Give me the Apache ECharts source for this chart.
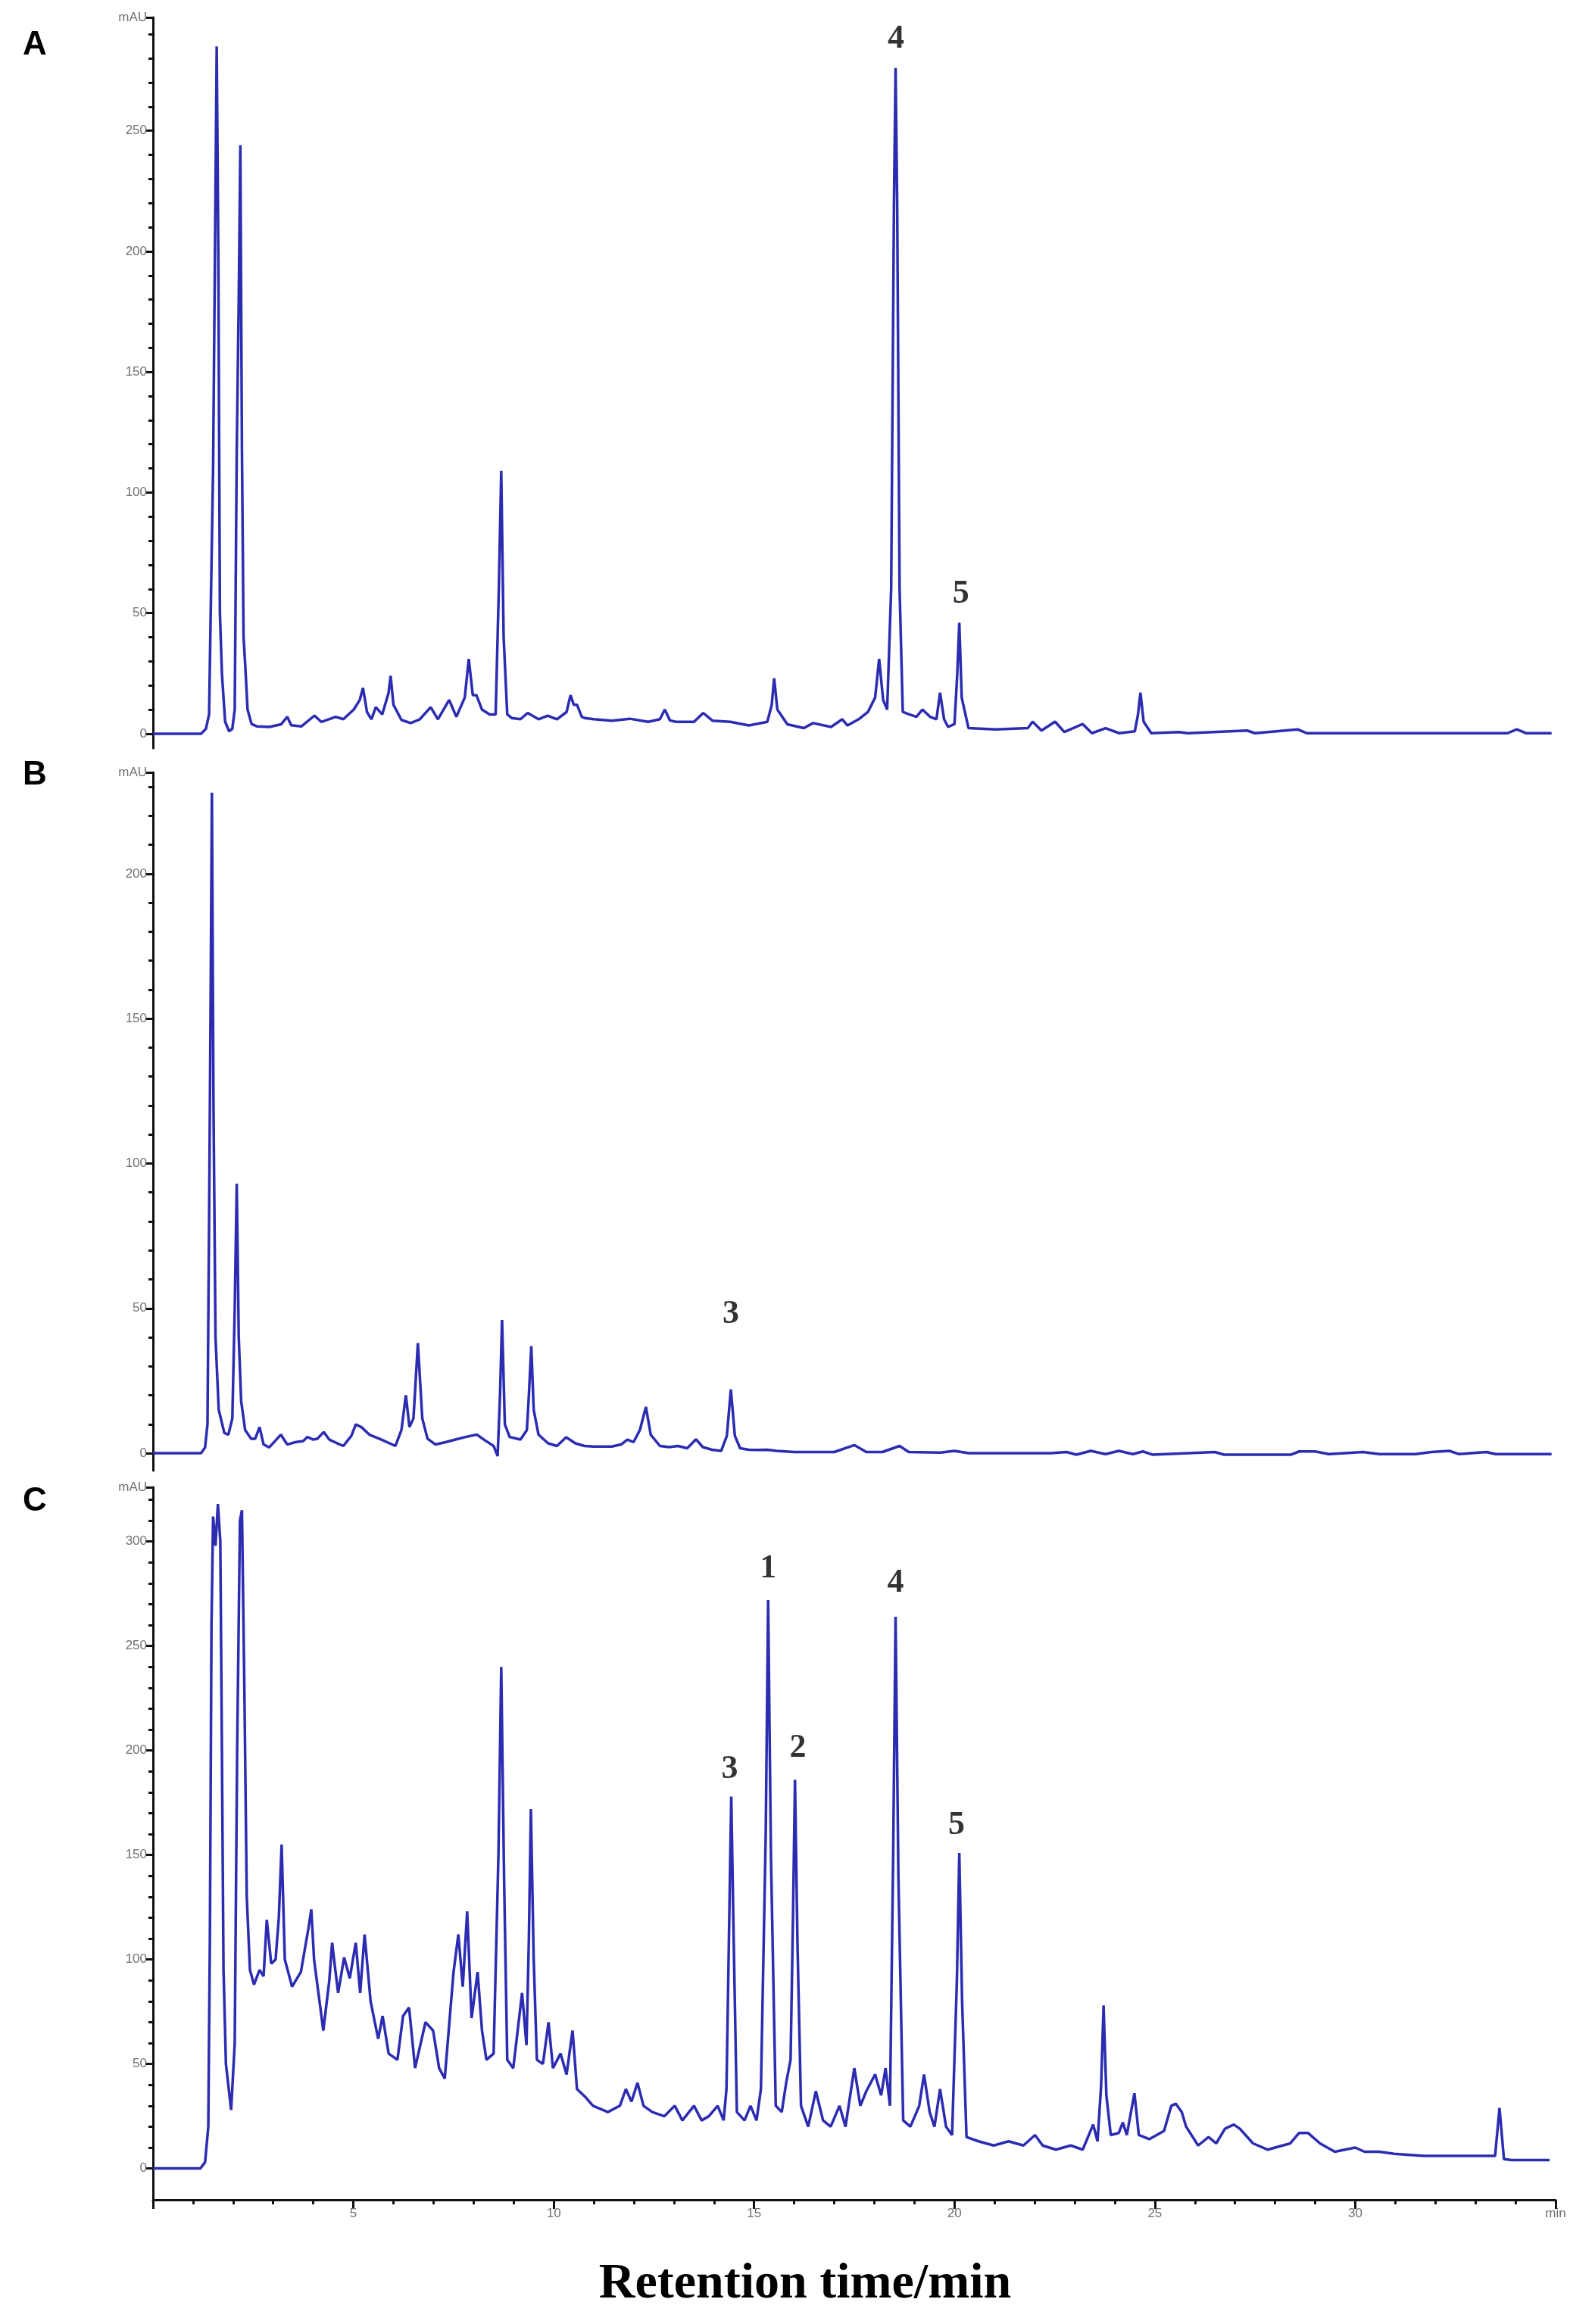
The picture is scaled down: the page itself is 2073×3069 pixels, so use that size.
<!DOCTYPE html>
<html>
<head>
<meta charset="utf-8">
<script src="https://cdn.jsdelivr.net/npm/echarts@6/dist/echarts.min.js"></script>
<style>
html,body{margin:0;padding:0;background:#fff;}
#chart{width:2073px;height:3069px;}
</style>
</head>
<body>
<div id="chart"></div>
<script>
// ---- Data (time in min, signal in mAU) ----
var traceA = [[0,0],[1.20,0],[1.32,2],[1.40,8],[1.44,50],[1.50,110],[1.55,206],[1.59,285],[1.63,200],[1.67,50],[1.72,25],[1.80,5],[1.90,1],[1.98,2],[2.04,10],[2.09,117],[2.14,180],[2.18,244],[2.22,117],[2.26,40],[2.30,29],[2.36,10],[2.46,4],[2.60,3],[2.90,2.8],[3.20,3.9],[3.35,7],[3.45,3.5],[3.70,3],[4.03,7.5],[4.20,4.9],[4.56,7],[4.75,6],[5.01,10],[5.16,14],[5.24,19],[5.34,9],[5.45,6],[5.56,11],[5.72,8],[5.88,17],[5.93,24],[6.00,12],[6.20,5.7],[6.43,4.4],[6.66,6],[6.93,11],[7.11,6],[7.39,14],[7.57,7],[7.78,15],[7.88,31],[7.98,16],[8.07,16],[8.21,10],[8.40,8],[8.55,8],[8.63,60],[8.69,109],[8.75,40],[8.84,8],[8.95,6.5],[9.17,6],[9.35,8.6],[9.62,6],[9.85,7.5],[10.08,6],[10.32,9],[10.42,16],[10.50,12],[10.58,12],[10.70,7],[10.77,6.5],[11.00,6],[11.45,5.4],[11.90,6.2],[12.36,4.9],[12.65,6],[12.77,10],[12.90,5.5],[13.05,4.9],[13.50,4.9],[13.73,8.6],[13.96,5.4],[14.41,4.9],[14.87,3.4],[15.33,4.9],[15.44,12],[15.50,23],[15.58,10],[15.83,3.9],[16.24,2.3],[16.47,4.4],[16.92,2.8],[17.20,6],[17.33,3.4],[17.61,6],[17.84,9],[18.02,15],[18.12,31],[18.22,14],[18.32,10],[18.42,60],[18.49,220],[18.53,276],[18.57,220],[18.63,60],[18.71,9],[18.87,8],[19.05,7],[19.20,10],[19.39,7],[19.55,6],[19.64,17],[19.74,6],[19.84,2.8],[20.00,4],[20.07,25],[20.12,46],[20.18,15],[20.35,2.3],[21.03,1.8],[21.83,2.3],[21.95,5],[22.17,1.3],[22.51,5],[22.74,0.7],[23.20,4],[23.43,0.2],[23.77,2.3],[24.11,0.2],[24.50,1],[24.58,8],[24.64,17],[24.72,5],[24.91,0.2],[25.60,0.7],[25.82,0.2],[27.30,1.3],[27.50,0.2],[28.56,1.8],[28.80,0.2],[33.80,0.2],[34.03,1.8],[34.27,0.2],[34.90,0.2]];

var traceB = [[0,0],[1.20,0],[1.30,2],[1.36,10],[1.40,80],[1.44,160],[1.47,228],[1.51,120],[1.56,40],[1.64,15],[1.78,7],[1.88,6.4],[1.98,12],[2.04,50],[2.09,93],[2.14,40],[2.20,18],[2.30,8],[2.45,5],[2.55,5],[2.66,9],[2.76,3],[2.90,2],[3.19,6.4],[3.35,3],[3.55,3.8],[3.75,4.2],[3.85,5.6],[4.00,4.7],[4.10,5],[4.26,7.3],[4.40,4.7],[4.60,3.4],[4.75,2.5],[4.95,6],[5.06,9.9],[5.20,9],[5.40,6.4],[5.70,4.7],[6.05,2.5],[6.20,8],[6.31,20],[6.40,9],[6.50,12],[6.61,38],[6.72,12],[6.85,5],[7.05,3],[7.30,3.8],[7.55,4.7],[7.80,5.6],[8.08,6.4],[8.30,4.3],[8.50,2.5],[8.60,-1],[8.66,20],[8.71,46],[8.78,10],[8.90,5.6],[9.17,4.7],[9.33,8],[9.38,20],[9.44,37],[9.50,15],[9.62,6.4],[9.86,3.4],[10.08,2.5],[10.31,5.5],[10.54,3.4],[10.77,2.5],[11.00,2.3],[11.45,2.3],[11.68,3],[11.84,4.7],[11.99,3.8],[12.15,8],[12.30,16],[12.42,6.4],[12.65,2.5],[12.88,2.1],[13.10,2.5],[13.33,1.7],[13.55,4.8],[13.72,2.1],[13.95,1.2],[14.18,0.8],[14.32,6],[14.42,22],[14.52,6],[14.65,1.7],[14.87,1.2],[15.10,1.1],[15.33,1.2],[15.56,0.8],[16.00,0.4],[17.00,0.4],[17.50,2.8],[17.80,0.4],[18.20,0.4],[18.63,2.5],[18.86,0.4],[19.65,0.2],[20.00,0.8],[20.35,0],[22.40,0],[22.80,0.4],[23.04,-0.5],[23.40,0.8],[23.77,-0.3],[24.10,0.8],[24.45,-0.3],[24.70,0.6],[24.94,-0.5],[26.50,0.4],[26.73,-0.5],[28.40,-0.5],[28.60,0.6],[29.00,0.6],[29.34,-0.3],[30.20,0.4],[30.60,-0.3],[31.50,-0.3],[31.90,0.4],[32.35,0.8],[32.58,-0.3],[33.27,0.4],[33.50,-0.3],[34.90,-0.3]];

var traceC = [[0,0],[1.18,0],[1.30,3],[1.38,20],[1.42,110],[1.46,260],[1.50,312],[1.56,298],[1.62,318],[1.68,300],[1.72,200],[1.76,95],[1.82,50],[1.95,28],[2.04,60],[2.10,200],[2.17,310],[2.22,315],[2.28,230],[2.34,130],[2.42,95],[2.52,88],[2.66,95],[2.76,92],[2.84,119],[2.95,98],[3.06,100],[3.14,120],[3.21,155],[3.29,100],[3.47,87],[3.69,94],[3.88,115],[3.95,124],[4.02,100],[4.25,66],[4.40,90],[4.47,108],[4.55,95],[4.62,84],[4.77,101],[4.91,91],[5.06,108],[5.17,84],[5.28,112],[5.36,95],[5.43,80],[5.62,62],[5.73,73],[5.88,55],[6.10,52],[6.24,73],[6.39,77],[6.54,48],[6.80,70],[6.99,66],[7.14,48],[7.28,43],[7.50,94],[7.62,112],[7.73,87],[7.84,123],[7.95,72],[8.10,94],[8.21,66],[8.32,52],[8.50,55],[8.62,150],[8.69,240],[8.76,140],[8.84,52],[8.99,48],[9.21,84],[9.32,59],[9.38,110],[9.43,172],[9.50,100],[9.58,52],[9.73,50],[9.87,70],[9.98,48],[10.17,55],[10.32,45],[10.47,66],[10.58,38],[10.80,34],[10.98,30],[11.35,27],[11.65,30],[11.80,38],[11.94,32],[12.09,41],[12.24,30],[12.46,27],[12.76,25],[13.02,30],[13.21,23],[13.50,30],[13.69,23],[13.87,25],[14.09,30],[14.24,23],[14.31,38],[14.38,120],[14.43,178],[14.49,110],[14.57,27],[14.76,23],[14.91,30],[15.06,23],[15.17,38],[15.29,160],[15.35,272],[15.42,150],[15.54,30],[15.69,27],[15.80,41],[15.91,52],[15.97,120],[16.02,186],[16.08,110],[16.17,30],[16.35,20],[16.54,37],[16.72,23],[16.91,20],[17.13,30],[17.28,20],[17.50,48],[17.65,30],[17.80,37],[18.02,45],[18.17,35],[18.28,48],[18.39,30],[18.47,150],[18.53,264],[18.60,140],[18.72,23],[18.90,20],[19.12,30],[19.24,45],[19.38,27],[19.50,20],[19.64,38],[19.79,20],[19.94,16],[20.06,90],[20.12,151],[20.19,80],[20.30,15],[20.60,13],[20.98,11],[21.35,13],[21.72,11],[22.01,16],[22.20,11],[22.53,9],[22.90,11],[23.20,9],[23.46,21],[23.57,13],[23.66,40],[23.72,78],[23.79,35],[23.90,16],[24.10,17],[24.20,22],[24.30,16],[24.49,36],[24.60,16],[24.86,14],[25.23,18],[25.41,30],[25.52,31],[25.67,27],[25.78,20],[26.08,11],[26.34,15],[26.53,12],[26.75,19],[26.97,21],[27.12,19],[27.45,12],[27.82,9],[28.00,10],[28.38,12],[28.60,17],[28.82,17],[29.12,12],[29.49,8],[30.00,10],[30.23,8],[30.60,8],[30.97,7],[31.71,6],[32.45,6],[33.20,6],[33.49,6],[33.60,29],[33.71,4.5],[33.90,4],[34.85,4]];

// peak numbers: [time, signal position of label centre, text]
var peakLabelsA = [[18.54, 288, '4'], [20.16, 58, '5']];
var peakLabelsB = [[14.42, 48, '3']];
var peakLabelsC = [[14.39, 191, '3'], [15.35, 287, '1'], [16.09, 201, '2'], [18.53, 280, '4'], [20.05, 164, '5']];

// axis ranges and tick values
var yMaxA = 297, yMinA = -6;
var yMaxB = 235, yMinB = -6;
var yMaxC = 326, yMinC = -15;
var yMajorA = [0, 50, 100, 150, 200, 250];
var yMajorB = [0, 50, 100, 150, 200];
var yMajorC = [0, 50, 100, 150, 200, 250, 300];
var xMin = 0, xMax = 35, xMajorStep = 5;

function minorList(max, step) {
  var out = [];
  for (var v = step; v < max; v += step) { if (v % 50 !== 0) out.push(v); }
  return out;
}

var lineColor = '#2c2cb2';
var labelGray = '#707070';

function yAxisPair(gi, min, max, majors) {
  var majorVals = majors.concat([max]);
  return [{
    type: 'value', gridIndex: gi, min: min, max: max, position: 'left',
    axisLine: { show: true, onZero: false, lineStyle: { color: '#111', width: 3 } },
    axisTick: { show: true, customValues: majorVals, length: 9, lineStyle: { color: '#111', width: 3 } },
    axisLabel: { show: true, customValues: majorVals, margin: 8, fontSize: 17, color: labelGray, fontFamily: 'Liberation Sans',
      formatter: function (v) { return v === max ? 'mAU' : String(v); } },
    splitLine: { show: false }
  }, {
    type: 'value', gridIndex: gi, min: min, max: max, position: 'left',
    axisLine: { show: false },
    axisTick: { show: true, customValues: minorList(max, 10), length: 6, lineStyle: { color: '#111', width: 3 } },
    axisLabel: { show: false },
    splitLine: { show: false }
  }];
}

var grids = [
  { left: 202, width: 1852, top: 23, height: 965 },
  { left: 202, width: 1852, top: 1020, height: 922 },
  { left: 202, width: 1852, top: 1964, height: 941 }
];

var xAxes = [
  { type: 'value', gridIndex: 0, min: xMin, max: xMax, show: false },
  { type: 'value', gridIndex: 1, min: xMin, max: xMax, show: false },
  { type: 'value', gridIndex: 2, min: xMin, max: xMax, interval: xMajorStep, position: 'bottom',
    axisLine: { show: true, onZero: false, lineStyle: { color: '#111', width: 3 } },
    axisTick: { show: true, length: 12, lineStyle: { color: '#111', width: 3 } },
    minorTick: { show: true, splitNumber: 5, length: 6, lineStyle: { color: '#111', width: 3 } },
    axisLabel: { margin: 10, fontSize: 17, color: labelGray, fontFamily: 'Liberation Sans',
      formatter: function (v) { return v === 0 ? '' : (v === xMax ? 'min' : String(v)); } },
    splitLine: { show: false }, minorSplitLine: { show: false } }
];

var yAxes = [].concat(
  yAxisPair(0, yMinA, yMaxA, yMajorA),
  yAxisPair(1, yMinB, yMaxB, yMajorB),
  yAxisPair(2, yMinC, yMaxC, yMajorC)
);

function traceSeries(data, gi) {
  return { type: 'line', xAxisIndex: gi, yAxisIndex: gi * 2, data: data, showSymbol: false, symbol: 'none',
    smooth: false, animation: false, lineStyle: { color: lineColor, width: 3.5 }, z: 3 };
}
function labelSeries(list, gi) {
  return { type: 'scatter', xAxisIndex: gi, yAxisIndex: gi * 2, symbolSize: 2, animation: false,
    itemStyle: { color: 'rgba(0,0,0,0)' }, silent: true, z: 5,
    data: list.map(function (p) { return { value: [p[0], p[1]], name: p[2] }; }),
    label: { show: true, position: 'inside', formatter: '{b}', color: '#000', fontSize: 44,
      fontWeight: 'bold', fontFamily: 'Liberation Serif' } };
}

var option = {
  backgroundColor: '#fff',
  animation: false,
  grid: grids,
  xAxis: xAxes,
  yAxis: yAxes,
  series: [
    traceSeries(traceA, 0), traceSeries(traceB, 1), traceSeries(traceC, 2),
    labelSeries(peakLabelsA, 0), labelSeries(peakLabelsB, 1), labelSeries(peakLabelsC, 2)
  ],
  graphic: [
    { type: 'text', left: 30, top: 38, style: { text: 'A', font: 'bold 44px "Liberation Sans"', fill: '#000' } },
    { type: 'text', left: 30, top: 1002, style: { text: 'B', font: 'bold 44px "Liberation Sans"', fill: '#000' } },
    { type: 'text', left: 30, top: 1961, style: { text: 'C', font: 'bold 44px "Liberation Sans"', fill: '#000' } },
    { type: 'text', x: 1063, y: 3017, style: { text: 'Retention time/min', font: 'bold 66px "Liberation Serif"', fill: '#000', textAlign: 'center', textVerticalAlign: 'middle' } }
  ]
};

var chart = echarts.init(document.getElementById('chart'), null, { renderer: 'canvas', width: 2073, height: 3069 });
chart.setOption(option);
</script>
</body>
</html>
